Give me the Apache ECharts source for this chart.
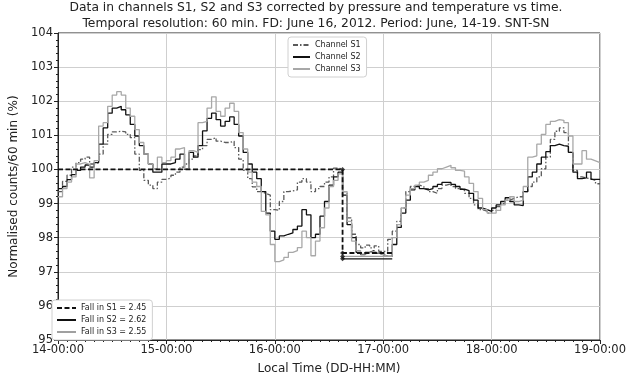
<!DOCTYPE html>
<html>
<head>
<meta charset="utf-8">
<script src="https://cdn.jsdelivr.net/npm/echarts@6/dist/echarts.min.js"></script>
<style>html,body{margin:0;padding:0;background:#fff}#c{width:629px;height:380px}</style>
</head>
<body>
<div id="c"></div>
<script>
// Hour offsets from 14-00:00; tick labels every 24 h
const tickLabels = ['14-00:00','15-00:00','16-00:00','17-00:00','18-00:00','19-00:00'];
const seriesNames = ['Channel S1','Channel S2','Channel S3'];

// Hourly values (%), 14-00 .. 18-23
const s1 = [
  99.35,99.65,99.83,100.07,100.2,100.3,100.36,100.16,100.2,100.45,100.74,101.03,101.1,101.12,101.1,101.03,100.93,100.45,99.97,99.68,99.54,99.44,99.63,99.71,
  99.75,99.83,99.92,100.07,100.16,100.3,100.4,100.58,100.7,100.88,100.93,100.83,100.79,100.79,100.83,100.64,100.3,99.97,99.73,99.49,99.35,99.3,99.25,98.82,
  98.8,99.06,99.35,99.37,99.4,99.63,99.73,99.63,99.35,99.44,99.5,99.63,99.78,100.04,100.02,99.35,98.58,98.1,97.8,97.7,97.78,97.7,97.76,97.6,
  97.6,97.95,98.19,98.48,98.87,99.35,99.5,99.54,99.5,99.44,99.35,99.3,99.44,99.54,99.58,99.5,99.44,99.4,99.3,99.15,98.96,98.82,98.78,98.72,
  98.8,98.91,99.0,99.1,99.15,99.2,99.2,99.35,99.5,99.63,99.78,100.02,100.36,100.88,101.12,101.22,101.08,100.5,99.97,99.78,99.75,99.72,99.68,99.58
];
const s2 = [
  99.44,99.5,99.7,99.85,99.97,100.07,100.13,100.07,100.2,100.74,101.22,101.65,101.8,101.85,101.75,101.6,101.32,100.98,100.7,100.45,100.16,99.92,99.92,100.16,
  100.16,100.2,100.3,100.45,100.0,100.5,100.36,100.7,101.13,101.5,101.65,101.46,101.27,101.41,101.54,101.32,100.98,100.5,100.16,99.92,99.73,99.35,98.72,98.19,
  97.95,98.05,98.1,98.14,98.24,98.34,98.82,98.67,98.0,98.1,98.63,99.06,99.54,99.78,99.92,99.25,98.38,98.0,97.57,97.5,97.57,97.62,97.55,97.5,
  97.45,97.45,97.8,98.3,98.72,99.1,99.4,99.5,99.44,99.4,99.44,99.5,99.56,99.62,99.62,99.56,99.5,99.42,99.38,99.3,99.1,98.87,98.82,98.77,
  98.87,98.96,99.06,99.17,99.06,98.96,98.94,99.35,99.78,99.92,100.16,100.36,100.52,100.7,100.74,100.7,100.68,100.5,99.92,99.73,99.75,99.92,99.71,99.71
];
const s3 = [
  99.2,99.44,99.63,99.78,100.16,100.2,100.15,99.75,100.26,101.27,101.37,101.85,102.18,102.28,102.18,101.8,101.56,101.17,100.79,100.45,100.16,100.02,100.36,100.2,
  100.26,100.36,100.6,100.64,100.02,100.55,100.5,101.37,101.41,101.8,102.13,101.7,101.56,101.8,101.94,101.7,101.08,100.6,99.92,99.63,99.5,98.77,98.67,97.8,
  97.3,97.35,97.42,97.57,97.62,97.71,98.19,98.0,97.47,97.9,98.29,98.87,99.5,99.68,99.87,99.35,98.48,97.9,97.62,97.52,97.56,97.6,97.55,97.5,
  97.45,97.45,98.0,98.38,98.87,99.25,99.44,99.54,99.63,99.68,99.83,99.92,100.02,100.07,100.12,100.05,99.97,99.95,99.78,99.59,99.35,99.15,98.82,98.72,
  98.72,98.8,98.96,99.1,99.2,99.06,99.1,99.5,100.36,100.4,100.74,101.03,101.32,101.41,101.46,101.44,101.37,100.98,100.16,100.16,100.55,100.3,100.25,100.2
];

// Forbush decrease: level before, fall size, drop hour and end hour (hours from 14-00:00)
const fallChannels = ['S1','S2','S3'];
const fallBefore = [100.0, 100.0, 100.0];
const fallSize = [2.45, 2.62, 2.55];
const fallStartHour = 0;
const dropHour = 63;
const fallEndHour = 74;

const colors = ['#5a5a5a','#111111','#a8a8a8'];
const dashes = [[5,2,1.5,2],'solid','solid'];

function stepData(arr){
  const d = arr.map((v,i)=>[i,v]);
  d.push([arr.length, arr[arr.length-1]]);
  return d;
}

const series = [];
[s1,s2,s3].forEach((arr,k)=>{
  series.push({
    name: seriesNames[k], type:'line', step:'end', symbol:'none', data: stepData(arr),
    lineStyle:{color:colors[k], width:1.3, type:dashes[k]}, itemStyle:{color:colors[k]},
    z: 2+k, animation:false
  });
});
const fallColors = ['#111111','#111111','#a0a0a0'];
const fallTypes = [[5,2.5],'solid','solid'];
const fallNames = fallChannels.map((c,k)=>'Fall in '+c+' = '+fallSize[k].toFixed(2));
const markerPts = [];
fallChannels.forEach((c,k)=>{
  const after = +(fallBefore[k]-fallSize[k]).toFixed(3);
  let data;
  if(k===0){
    data = [[fallStartHour,fallBefore[k]],[dropHour,fallBefore[k]],[dropHour,after],[fallEndHour,after]];
    markerPts.push([dropHour,fallBefore[k]]);
  } else {
    data = [[dropHour,after],[fallEndHour,after]];
  }
  markerPts.push([dropHour,after]);
  series.push({
    name: fallNames[k], type:'line', data, symbol:'none',
    lineStyle:{color:fallColors[k], width:k===0?1.8:1.3, type:fallTypes[k]},
    itemStyle:{color:fallColors[k]}, z: 10-k, animation:false
  });
});
series.push({
  name:'markers', type:'scatter', data:markerPts, symbol:'diamond', symbolSize:5,
  itemStyle:{color:'#111'}, z:12, animation:false
});

const font = 'DejaVu Sans';
const legendCommon = {
  orient:'vertical', itemGap:4, itemHeight:8,
  backgroundColor:'#fff', borderColor:'#d0d0d0', borderWidth:1, borderRadius:3, padding:[4,6,4,4],
  textStyle:{fontFamily:font, fontSize:8, color:'#222'}, selectedMode:false,
  itemStyle:{opacity:0, borderWidth:0}
};
const chart = echarts.init(document.getElementById('c'), null, {renderer:'canvas'});
chart.setOption({
  animation:false,
  backgroundColor:'#fff',
  title:{
    text:'Data in channels S1, S2 and S3 corrected by pressure and temperature vs time.\nTemporal resolution: 60 min. FD: June 16, 2012. Period: June, 14-19. SNT-SN',
    left:316, top:0, padding:0, textAlign:'center',
    textStyle:{fontFamily:font, fontSize:12.3, fontWeight:'normal', color:'#222', lineHeight:16}
  },
  legend:[
    Object.assign({}, legendCommon, {data:seriesNames, left:288, top:37, itemWidth:17}),
    Object.assign({}, legendCommon, {data:fallNames, left:52, top:300, itemWidth:19})
  ],
  grid:{left:47, right:27, top:33, bottom:35, show:true, borderColor:'#222', borderWidth:1, backgroundColor:'transparent'},
  xAxis:{
    type:'value', min:0, max:120, interval:24,
    name:'Local Time (DD-HH:MM)', nameLocation:'middle', nameGap:23,
    nameTextStyle:{fontFamily:font, fontSize:12, color:'#222'},
    axisLine:{show:true, lineStyle:{color:'#222'}},
    axisTick:{show:true, length:4, lineStyle:{color:'#222'}},
    minorTick:{show:true, splitNumber:12, length:2, lineStyle:{color:'#222'}},
    axisLabel:{fontFamily:font, fontSize:11.5, color:'#222', margin:4,
      formatter:v=>tickLabels[Math.round(v/24)]},
    splitLine:{show:true, lineStyle:{color:'#cfcfcf', width:1}}
  },
  yAxis:{
    type:'value', min:95, max:104, interval:1,
    name:'Normalised counts/60 min (%)', nameLocation:'middle', nameGap:38,
    nameTextStyle:{fontFamily:font, fontSize:12, color:'#222'},
    axisLine:{show:true, lineStyle:{color:'#222'}},
    axisTick:{show:true, length:4, lineStyle:{color:'#222'}},
    minorTick:{show:true, splitNumber:5, length:2, lineStyle:{color:'#222'}},
    axisLabel:{fontFamily:font, fontSize:11.5, color:'#222', margin:5},
    splitLine:{show:true, lineStyle:{color:'#cfcfcf', width:1}}
  },
  series
});
</script>
</body>
</html>
